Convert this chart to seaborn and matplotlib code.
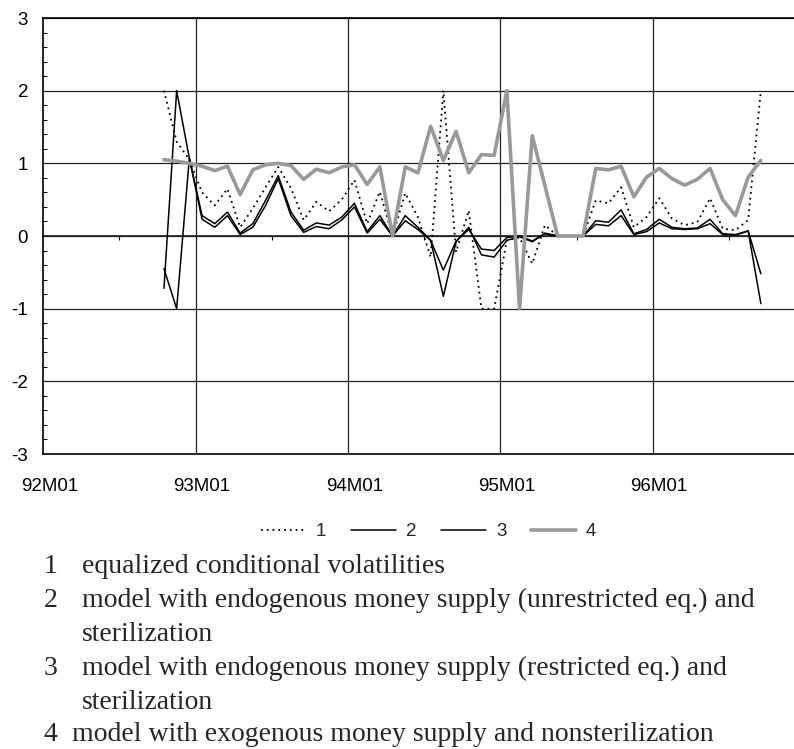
import numpy as np
import pandas as pd
import matplotlib
matplotlib.use('Agg')
import matplotlib.pyplot as plt
import seaborn as sns

# monthly observations, 92M10 .. 96M09
periods = pd.period_range('1992-10', '1996-09', freq='M')

# 1 equalized conditional volatilities (dotted)
s1_equalized = [2.0, 1.30, 1.05, 0.60, 0.42, 0.65, 0.12, 0.38, 0.67, 0.95,
                0.66, 0.22, 0.47, 0.34, 0.50, 0.77, 0.17, 0.61, 0.0, 0.59,
                0.26, -0.29, 2.0, -0.22, 0.35, -1.0, -1.0, -0.06, -0.02, -0.38,
                0.15, 0.0, 0.0, 0.0, 0.49, 0.45, 0.67, 0.12, 0.26, 0.52,
                0.24, 0.15, 0.19, 0.52, 0.10, 0.08, 0.22, 2.0]
# 2 endogenous money supply, unrestricted eq.
s2_unrestricted = [-0.72, 2.0, 1.07, 0.28, 0.17, 0.33, 0.04, 0.17, 0.49, 0.83,
                   0.33, 0.08, 0.18, 0.15, 0.26, 0.45, 0.06, 0.28, 0.0, 0.28,
                   0.12, -0.06, -0.83, -0.08, 0.12, -0.26, -0.29, -0.06, -0.01, -0.08,
                   0.04, 0.0, 0.0, 0.0, 0.21, 0.19, 0.36, 0.03, 0.09, 0.23,
                   0.12, 0.10, 0.11, 0.23, 0.03, 0.02, 0.07, -0.93]
# 3 endogenous money supply, restricted eq.
s3_restricted = [-0.45, -1.0, 1.07, 0.23, 0.12, 0.28, 0.02, 0.12, 0.42, 0.79,
                 0.28, 0.05, 0.13, 0.10, 0.22, 0.40, 0.04, 0.23, 0.0, 0.21,
                 0.09, -0.06, -0.47, -0.07, 0.09, -0.18, -0.20, -0.02, 0.0, -0.07,
                 0.03, 0.0, 0.0, 0.0, 0.16, 0.14, 0.28, 0.02, 0.06, 0.18,
                 0.10, 0.09, 0.10, 0.17, 0.02, 0.01, 0.07, -0.52]
# 4 exogenous money supply, nonsterilization (grey)
s4_exogenous = [1.05, 1.03, 1.00, 0.96, 0.90, 0.96, 0.57, 0.91, 0.98, 1.00,
                0.97, 0.78, 0.92, 0.87, 0.95, 0.98, 0.71, 0.95, 0.0, 0.95,
                0.87, 1.51, 1.04, 1.44, 0.87, 1.12, 1.11, 2.0, -1.0, 1.38,
                0.69, 0.0, 0.0, 0.0, 0.93, 0.91, 0.96, 0.54, 0.81, 0.93,
                0.79, 0.70, 0.78, 0.93, 0.50, 0.28, 0.81, 1.04]

year_labels = ['92M01', '93M01', '94M01', '95M01', '96M01']
series_labels = ['1', '2', '3', '4']
notes = [
    ('1', 'equalized conditional volatilities'),
    ('2', 'model with endogenous money supply (unrestricted eq.) and'),
    ('', 'sterilization'),
    ('3', 'model with endogenous money supply (restricted eq.) and'),
    ('', 'sterilization'),
    ('4', 'model with exogenous money supply and nonsterilization'),
]

# x = month counted from 92M01, points sit in the middle of each month
x = (periods.year - 1992) * 12 + periods.month - 1 + 0.5
df = pd.DataFrame({'x': x, '1': s1_equalized, '2': s2_unrestricted,
                   '3': s3_restricted, '4': s4_exogenous})

sns.set_theme(style='white')
plt.rcParams['font.family'] = ['Liberation Sans', 'DejaVu Sans']
plt.rcParams['axes.unicode_minus'] = False

W, H = 794, 749
fig = plt.figure(figsize=(W / 100, H / 100), dpi=100)
ax = fig.add_axes([43.3 / W, 1 - 454 / H, 762 / W, 436 / H])

sns.lineplot(data=df, x='x', y='1', ax=ax, color='black', lw=1.3,
             linestyle=(0, (1, 2.2)), label=series_labels[0])
sns.lineplot(data=df, x='x', y='2', ax=ax, color='black', lw=1.1, label=series_labels[1])
sns.lineplot(data=df, x='x', y='3', ax=ax, color='black', lw=1.1, label=series_labels[2])
sns.lineplot(data=df, x='x', y='4', ax=ax, color='#999999', lw=2.6, label=series_labels[3])

ax.set_xlim(0, 60)
ax.set_ylim(-3, 3)
ax.set_xlabel('')
ax.set_ylabel('')

# labels in the middle of each January, gridlines on year boundaries
ax.set_xticks([0.5, 12.5, 24.5, 36.5, 48.5], year_labels)
ax.set_xticks([12, 24, 36, 48], minor=True)
ax.set_yticks(range(-3, 4))
ax.set_yticks(np.arange(-3, 3.01, 0.2), minor=True)
ax.xaxis.grid(False, which='major')
ax.xaxis.grid(True, which='minor', color='#222222', lw=0.9)
ax.yaxis.grid(True, which='major', color='#222222', lw=0.9)
ax.tick_params(axis='x', which='both', length=0, pad=17, labelsize=13.5, colors='black')
ax.tick_params(axis='y', which='major', length=0, pad=11, labelsize=13.5, colors='black')
ax.tick_params(axis='y', which='minor', length=3, width=0.8, direction='in', left=True, color='black')

for side in ['left', 'top', 'bottom']:
    ax.spines[side].set_color('black')
    ax.spines[side].set_linewidth(1.2)
ax.spines['right'].set_visible(False)

# half-year ticks sitting on the zero line
zero_axis = ax.secondary_xaxis(0.5)
zero_axis.set_xticks(range(6, 60, 6), labels=[''] * 9)
zero_axis.tick_params(direction='in', length=3, width=0.8, color='black')
zero_axis.spines['bottom'].set_visible(False)

handles, labels = ax.get_legend_handles_labels()
ax.get_legend().remove()
fig.legend(handles, labels, loc='center', bbox_to_anchor=(428.5 / W, 1 - 531.7 / H),
           ncol=4, frameon=False, fontsize=13.5, handlelength=2.4,
           handletextpad=0.55, columnspacing=1.3)

serif = 'Liberation Serif'
baselines = [573, 607, 641, 675, 709, 741]
for (num, text), yb in zip(notes, baselines):
    if num == '4':
        fig.text(43 / W, 1 - yb / H, num, family=serif, fontsize=20, va='baseline')
        fig.text(72 / W, 1 - yb / H, text, family=serif, fontsize=20, va='baseline')
    else:
        if num:
            fig.text(44 / W, 1 - yb / H, num, family=serif, fontsize=20, va='baseline')
        fig.text(82 / W, 1 - yb / H, text, family=serif, fontsize=20, va='baseline')

fig.savefig('out.png', dpi=100)
